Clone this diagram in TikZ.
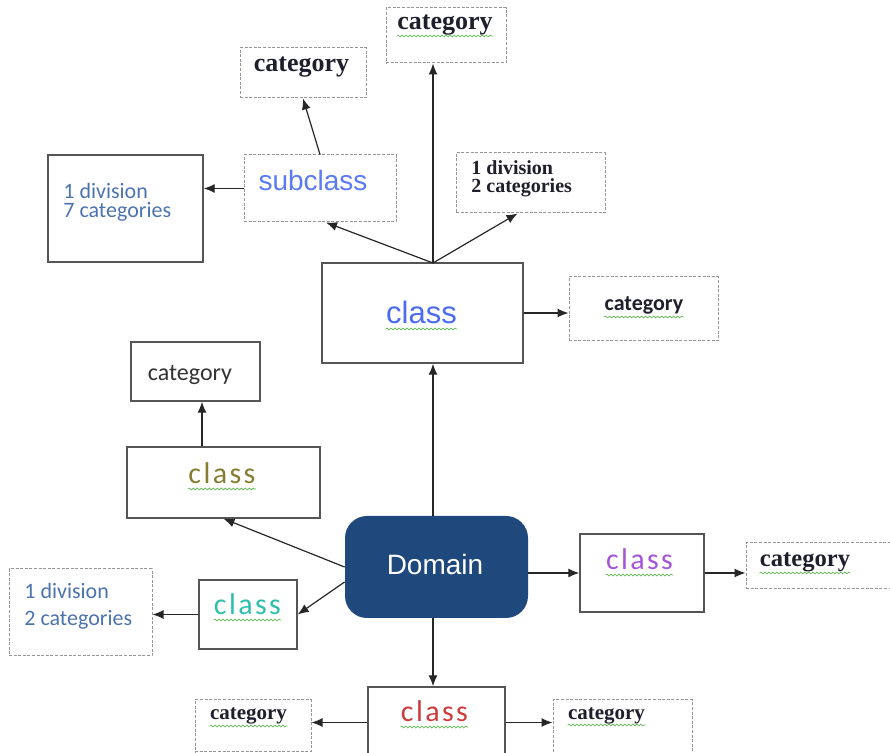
\documentclass[tikz,border=0pt]{standalone}
\usepackage{fontspec}
\setmainfont{Liberation Serif}
\newfontfamily\arialf{Liberation Sans}
\newfontfamily\calf{Carlito}
\newfontfamily\calspaced[LetterSpace=8]{Carlito}
\usetikzlibrary{arrows.meta,decorations.pathmorphing}

\definecolor{domainblue}{RGB}{31,73,125}
\definecolor{boxgray}{RGB}{85,85,85}
\definecolor{dashgray}{RGB}{150,150,150}
\definecolor{classblue}{RGB}{75,108,240}
\definecolor{subblue}{RGB}{92,122,242}
\definecolor{noteblue}{RGB}{75,115,175}
\definecolor{clsolive}{RGB}{135,125,50}
\definecolor{clsteal}{RGB}{45,190,172}
\definecolor{clspurple}{RGB}{165,85,215}
\definecolor{clsred}{RGB}{205,60,60}
\definecolor{serifink}{RGB}{30,30,45}
\definecolor{wavygreen}{RGB}{95,185,80}

\begin{document}
\begin{tikzpicture}[x=0.5pt, y=-0.5pt,
  solidbox/.style={draw=boxgray, line width=0.7pt, inner sep=0pt},
  dashbox/.style={draw=dashgray, line width=0.5pt, dash pattern=on 1.5pt off 0.8pt, inner sep=0pt},
  domainbox/.style={fill=domainblue, rounded corners=11pt, inner sep=0pt},
  arrow/.style={->, >={Latex[length=5.5pt,width=4.5pt]}, line width=0.6pt, color=black!85},
  txt/.style={inner sep=0pt, anchor=base},
  txtl/.style={inner sep=0pt, anchor=base west, align=left},
  wavy/.style={decorate, decoration={snake, amplitude=0.45pt, segment length=2pt},
               draw=wavygreen, line width=0.35pt},
  squiggly/.style={append after command={([yshift=-#1]\tikzlastnode.base west)
                   edge[wavy] ([yshift=-#1]\tikzlastnode.base east)}},
  squiggly/.default=2.5pt,
  boldcat/.style={txt, font=\bfseries\fontsize{#1}{#1}\selectfont, text=serifink},
  calcls/.style={txt, font=\calspaced\fontsize{15}{18}\selectfont, text=#1, squiggly},
  note/.style={txtl, font=\calf\fontsize{11}{#1}\selectfont, text=noteblue}
]
  \useasboundingbox (0,0) rectangle (890,753);

  % boxes
  \node[dashbox, minimum width=60pt, minimum height=27.5pt] (catTop) at (446,35.5) {};
  \node[dashbox, minimum width=63pt, minimum height=25pt] (catSub) at (303,73) {};
  \node[dashbox, minimum width=76pt, minimum height=33.5pt] (subCls) at (320,188.5) {};
  \node[solidbox, minimum width=77.5pt, minimum height=53.5pt] (divSeven) at (125.5,208.5) {};
  \node[dashbox, minimum width=74.5pt, minimum height=30pt] (divTwoTop) at (530.5,183) {};
  \node[solidbox, minimum width=100.5pt, minimum height=50pt] (clsTop) at (422.5,313) {};
  \node[dashbox, minimum width=74.5pt, minimum height=32pt] (catRight) at (643.5,309) {};
  \node[solidbox, minimum width=64.5pt, minimum height=29.5pt] (catLeft) at (195.5,371.5) {};
  \node[solidbox, minimum width=96.5pt, minimum height=35.5pt] (clsOlive) at (223.5,482.5) {};
  \node[domainbox, minimum width=91.5pt, minimum height=51pt] (domain) at (436.5,567) {};
  \node[solidbox, minimum width=49pt, minimum height=34.5pt] (clsTeal) at (248,614.5) {};
  \node[dashbox, minimum width=71.5pt, minimum height=43.5pt] (divTwoLeft) at (80.5,612.5) {};
  \node[solidbox, minimum width=62pt, minimum height=39pt] (clsPurple) at (642,573) {};
  \node[dashbox, minimum width=73pt, minimum height=23pt] (catPurple) at (819,566) {};
  \node[solidbox, minimum width=68.5pt, minimum height=35.5pt] (clsRed) at (436.5,722.5) {};
  \node[dashbox, minimum width=58pt, minimum height=26pt] (catBotL) at (253,726) {};
  \node[dashbox, minimum width=69.5pt, minimum height=27.5pt] (catBotR) at (622.5,727.5) {};

  % texts (base of several lines = last line)
  \node[boldcat=13, squiggly=3pt] (tCatTop) at (445,30) {category};
  \node[boldcat=13] (tCatSub) at (301.5,72) {category};
  \node[txt, font=\arialf\fontsize{14}{16}\selectfont, text=subblue] (tSub) at (313,191) {subclass};
  \node[note=9.5] (tDivSeven) at (63,218) {1 division\\7 categories};
  \node[txtl, font=\bfseries\fontsize{10}{9}\selectfont, text=serifink] (tDivTop) at (471,193) {1 division\\2 categories};
  \node[txt, font=\arialf\fontsize{15.5}{18}\selectfont, text=classblue, squiggly] (tClsTop) at (421.5,324) {class};
  \node[txt, font=\calf\bfseries\fontsize{11}{13}\selectfont, text=serifink, squiggly=3pt] (tCatRight) at (644,311) {category};
  \node[txt, font=\calf\fontsize{12}{14}\selectfont, text=black!80] (tCatLeft) at (190,381) {category};
  \node[calcls=clsolive] (tClsOlive) at (222,484) {class};
  \node[txt, font=\arialf\fontsize{14}{16}\selectfont, text=white] (tDomain) at (435,575) {Domain};
  \node[calcls=clsteal] (tClsTeal) at (247.5,615) {class};
  \node[note=13.5] (tDivLeft) at (24,626) {1 division\\2 categories};
  \node[calcls=clspurple] (tClsPurple) at (639.5,570) {class};
  \node[boldcat=12.3, squiggly=3pt] (tCatPurple) at (805,567) {category};
  \node[calcls=clsred] (tClsRed) at (434.5,722) {class};
  \node[boldcat=10.5, squiggly=3pt] (tCatBotL) at (248.5,720) {category};
  \node[boldcat=10.5, squiggly=3pt] (tCatBotR) at (606.5,719) {category};

  % connectors
  \coordinate (hub) at (433,263);
  \draw[arrow] (hub) -- (hub |- catTop.south);
  \draw[arrow] (hub) -- ([xshift=3pt]subCls.south);
  \draw[arrow] (hub) -- ([xshift=-6.5pt]divTwoTop.south);
  \draw[arrow] (subCls.north) -- (catSub.south);
  \draw[arrow] (subCls.west) -- (subCls.west -| divSeven.east);
  \draw[arrow] (clsTop.east) -- (clsTop.east -| catRight.west);
  \draw[arrow] (domain.north -| hub) -- (hub |- clsTop.south);
  \draw[arrow] (domain.west) -- (clsOlive.south);
  \draw[arrow] ([yshift=-7.5pt]domain.west) -- (clsTeal.east);
  \draw[arrow] ([xshift=3.25pt]catLeft.south |- clsOlive.north) -- ([xshift=3.25pt]catLeft.south);
  \draw[arrow] (clsTeal.west) -- (clsTeal.west -| divTwoLeft.east);
  \draw[arrow] (clsPurple.west -| domain.east) -- (clsPurple.west);
  \draw[arrow] (clsPurple.east) -- (clsPurple.east -| catPurple.west);
  \draw[arrow] (hub |- domain.south) -- (hub |- clsRed.north);
  \draw[arrow] (clsRed.west) -- (clsRed.west -| catBotL.east);
  \draw[arrow] (clsRed.east) -- (clsRed.east -| catBotR.west);
\end{tikzpicture}
\end{document}
